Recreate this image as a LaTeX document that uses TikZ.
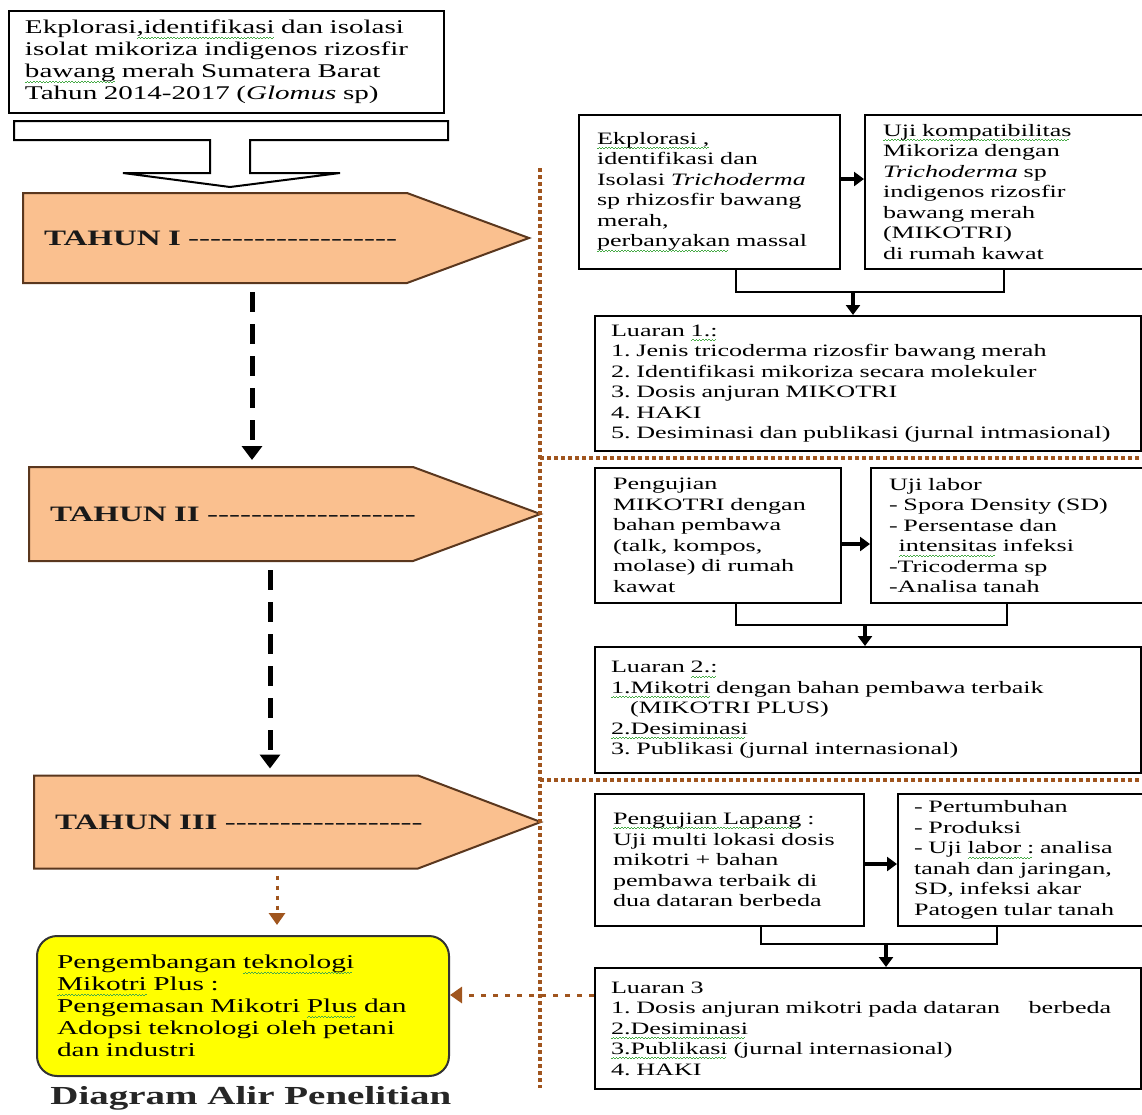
\documentclass[tikz,border=0pt]{standalone}
\usepackage{fontspec}
\setmainfont{Liberation Serif}[FakeStretch=1.5]
\newfontfamily\tahunfont{Liberation Serif}[FakeStretch=1.5]
\usetikzlibrary{arrows.meta, calc, positioning, shapes.symbols}
\definecolor{tahunfill}{RGB}{250,192,143}
\definecolor{tahunedge}{RGB}{90,55,30}
\definecolor{dotbrown}{RGB}{160,85,30}
\definecolor{idefill}{RGB}{255,255,0}
\definecolor{sqgreen}{RGB}{70,170,70}
\frenchspacing
% spell-check wave under a word
\newcommand\sq[1]{\leavevmode\setbox0=\hbox{#1}\rlap{\textcolor{sqgreen}{\raisebox{-2.4pt}{\hbox to\wd0{%
  \leaders\hbox to 1.6pt{\rule{0.8pt}{0.5pt}\rule[0.5pt]{0.8pt}{0.5pt}}\hfill}}}}\box0\relax}

\begin{document}
\begin{tikzpicture}[
    x=0.5pt, y=-0.5pt,
    font=\fontsize{8.7pt}{10.25pt}\selectfont,
    box/.style     = {rectangle, draw=black, line width=1pt, align=left, anchor=north west,
                      inner xsep=9pt, inner ysep=0pt},
    tahun/.style   = {signal, signal to=east, signal pointer angle=40.5, draw=tahunedge,
                      fill=tahunfill, line width=1pt, anchor=west, align=left,
                      text width=171pt, inner xsep=10.5pt, inner ysep=0pt, text=black!90,
                      font=\tahunfont\fontsize{11pt}{12pt}\selectfont,
                      execute at begin node={\exhyphenpenalty=10000}},
    ide/.style     = {rectangle, rounded corners=10pt, draw=black!80, fill=idefill,
                      line width=1pt, align=left, anchor=north west, inner xsep=10pt,
                      font=\fontsize{9.8pt}{11pt}\selectfont},
    arr/.style     = {-{Triangle[width=7pt,length=5pt]}, line width=1.75pt},
    link/.style    = {line width=1pt},
    yeararr/.style = {-{Triangle[width=10pt,length=7pt]}, line width=2.5pt,
                      dash pattern=on 10pt off 6pt},
    dotarr/.style  = {-{Triangle[width=8pt,length=6pt]}, dotbrown, line width=1.5pt,
                      dash pattern=on 2pt off 3pt},
    sep/.style     = {dotbrown, line width=2pt, dash pattern=on 2pt off 1.5pt},
]
\useasboundingbox (0,0) rectangle (1142,1115);

% ---------------- left column ----------------
\node[box, inner xsep=8pt, text width=201.5pt, minimum height=51pt,
      font=\fontsize{9.7pt}{11pt}\selectfont] (src) at (8,10)
  {Ekplorasi\sq{,identifikasi} dan isolasi\\isolat mikoriza indigenos rizosfir\\
   \sq{bawang} merah Sumatera Barat\\Tahun 2014-2017 (\textit{Glomus} sp)};
\draw[line width=1pt, fill=white] (14,121) -- (448,121) -- (448,140) -- (250,140) -- (250,173)
  -- (340,173) -- (230,187) -- (123,173) -- (210,173) -- (210,140) -- (14,140) -- cycle;

\node[tahun, minimum height=45pt] (tahun1) at (22,238)
  {{\bfseries TAHUN~I}~-------------------};
\node[tahun, minimum height=47pt] (tahun2) at (28,514)
  {{\bfseries TAHUN~II}~-------------------};
\node[tahun, minimum height=46.5pt, signal pointer angle=41.5] (tahun3) at (33,822)
  {{\bfseries TAHUN~III}~------------------};

\coordinate (d1) at (252,0);
\coordinate (d2) at (270,0);
\coordinate (d3) at (277,0);
\draw[yeararr, shorten <=4pt, shorten >=3pt] (tahun1.south -| d1) -- (tahun2.north -| d1);
\draw[yeararr, shorten <=4pt, shorten >=3pt] (tahun2.south -| d2) -- (tahun3.north -| d2);

\node[ide, text width=186pt, minimum height=70pt] (kembang) at (36,935)
  {Pengembangan \sq{teknologi}\\\sq{Mikotri} Plus :\\Pengemasan Mikotri \sq{Plus} dan\\
   Adopsi teknologi oleh petani\\dan industri};
\draw[dotarr, shorten <=3pt, shorten >=5pt] (tahun3.south -| d3) -- (kembang.north -| d3);

\node[anchor=west, inner sep=0pt, text=black!85,
      font=\fontsize{13pt}{15pt}\selectfont\bfseries] (judul) at (50,1098) {Diagram Alir Penelitian};

% ---------------- separators ----------------
\draw[sep] (540,168) -- (540,1088);
\draw[sep] (540,458) -- (1142,458);
\draw[sep] (540,780) -- (1142,780);

% ---------------- tahun I ----------------
\node[box, text width=112.5pt, minimum height=77pt] (explor) at (578,114)
  {\sq{Ekplorasi ,}\\identifikasi dan\\Isolasi \textit{Trichoderma}\\sp rhizosfir bawang\\
   merah,\\\sq{perbanyakan} massal};
\node[box, text width=121pt, minimum height=77pt, right=11.5pt of explor] (kompat)
  {\sq{Uji kompatibilitas}\\Mikoriza dengan\\\textit{Trichoderma} sp\\indigenos rizosfir\\
   bawang merah\\(MIKOTRI)\\di rumah kawat};
\node[box, inner xsep=8pt, text width=257pt, minimum height=67.5pt] (luar1) at (594,315)
  {Luaran \sq{1.:}\\1. Jenis tricoderma rizosfir bawang merah\\
   2. Identifikasi mikoriza secara molekuler\\3. Dosis anjuran MIKOTRI\\4. HAKI\\
   5. Desiminasi dan publikasi (jurnal intmasional)};
\draw[arr] ([yshift=6.5pt]explor.east) -- ([yshift=6.5pt]explor.east -| kompat.west);
\coordinate (m1) at (736,292);
\coordinate (a1) at (853,292);
\draw[link] (explor.south -| m1) -- (m1) -| (kompat.south);
\draw[arr] (a1) -- (a1 |- luar1.north);

% ---------------- tahun II ----------------
\node[box, text width=105pt, minimum height=67.5pt] (uji) at (594,467)
  {Pengujian\\MIKOTRI dengan\\bahan pembawa\\(talk, kompos,\\molase) di rumah\\kawat};
\node[box, text width=118pt, minimum height=67.5pt, right=14pt of uji] (labor)
  {Uji labor\\- Spora Density (SD)\\- Persentase dan\\\hspace*{0.55em}\sq{intensitas} infeksi\\
   -Tricoderma sp\\-Analisa tanah};
\node[box, inner xsep=8pt, text width=257pt, minimum height=63pt] (luar2) at (594,646)
  {Luaran \sq{2.:}\\\sq{1.Mikotri} dengan bahan pembawa terbaik\\\hspace*{1.1em}(MIKOTRI PLUS)\\
   \sq{2.Desiminasi}\\3. Publikasi (jurnal internasional)};
\draw[arr] ([yshift=-4.25pt]uji.east) -- ([yshift=-4.25pt]uji.east -| labor.west);
\coordinate (m2) at (736,625);
\coordinate (a2) at (865,625);
\draw[link] (uji.south -| m2) -- (m2) -| (labor.south);
\draw[arr] (a2) -- (a2 |- luar2.north);

% ---------------- tahun III ----------------
\node[box, text width=116.5pt, minimum height=66pt] (lapang) at (594,793)
  {\sq{Pengujian Lapang} :\\Uji multi lokasi dosis\\mikotri + bahan\\pembawa terbaik di\\
   dua dataran berbeda};
\node[box, inner xsep=8pt, text width=106.5pt, minimum height=66pt, right=16pt of lapang] (amati)
  {- Pertumbuhan\\- Produksi\\- Uji \sq{labor :} analisa\\tanah dan jaringan,\\SD, infeksi akar\\
   Patogen tular tanah};
\node[box, inner xsep=8pt, text width=257pt, minimum height=60.5pt] (luar3) at (594,967)
  {Luaran 3\\1. Dosis anjuran mikotri pada dataran\hspace{1.3em} berbeda\\\sq{2.Desiminasi}\\
   \sq{3.Publikasi} (jurnal internasional)\\4. HAKI};
\draw[arr] ([yshift=-2pt]lapang.east) -- ([yshift=-2pt]lapang.east -| amati.west);
\coordinate (m3) at (761,944);
\coordinate (m3b) at (997,944);
\coordinate (a3) at (886,944);
\draw[link] (lapang.south -| m3) -- (m3) -- (m3b) -- (m3b |- amati.south);
\draw[arr] (a3) -- (a3 |- luar3.north);

\draw[dotarr, dash pattern=on 2.5pt off 3.5pt] ([yshift=16.75pt]luar3.west)
  -- ([yshift=16.75pt]luar3.west -| kembang.east);

\end{tikzpicture}
\end{document}
